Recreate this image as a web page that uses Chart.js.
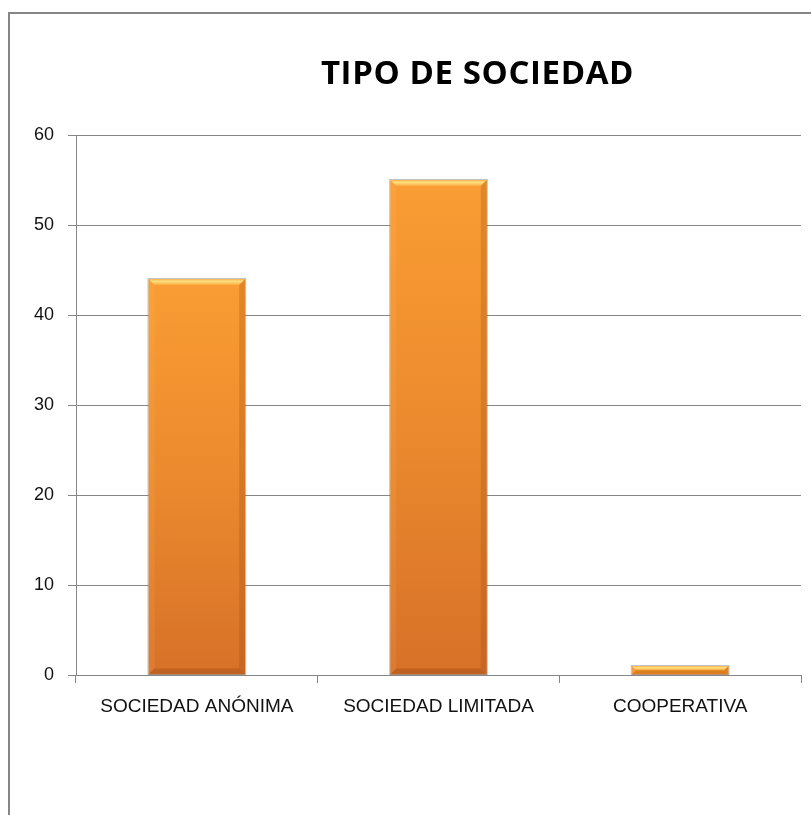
<!DOCTYPE html>
<html>
<head>
<meta charset="utf-8">
<script src="https://cdn.jsdelivr.net/npm/chart.js@4/dist/chart.umd.min.js"></script>
<style>
  html, body { margin: 0; padding: 0; background: #fff; overflow: hidden; }
  #wrap { position: relative; width: 811px; height: 815px; }
  #frame { position: absolute; left: 8px; top: 12px; width: 820px; height: 820px;
           border-left: 2px solid #868686; border-top: 2px solid #868686; }
  #title { position: absolute; left: 0; width: 955px; top: 49px; text-align: center;
           font: bold 33px "Open Sans", sans-serif; letter-spacing: 0.6px; color: #000; }
  #chart { position: absolute; left: 0; top: 0; }
</style>
</head>
<body>
<div id="wrap">
  <div id="frame"></div>
  <canvas id="chart" width="811" height="815"></canvas>
  <div id="title">TIPO DE SOCIEDAD</div>
</div>
<script>
var titleText = 'TIPO DE SOCIEDAD';
var categories = ['SOCIEDAD ANÓNIMA', 'SOCIEDAD LIMITADA', 'COOPERATIVA'];
var values = [44, 55, 1];
var yTicks = [0, 10, 20, 30, 40, 50, 60];

var axisGray = '#868686';

// bar gradient, per bar (light orange on top, darker at the base)
function barFill(ctx) {
	var chart = ctx.chart;
	if (!chart.chartArea || !chart.scales.y) return '#f0882e';
	var ys = chart.scales.y;
	var top = ys.getPixelForValue(values[ctx.dataIndex]);
	var base = ys.getPixelForValue(0);
	if (!isFinite(top) || base - top < 1) return '#f0882e';
	if (base - top < 20) return '#f7982f';
	var g = chart.ctx.createLinearGradient(0, top, 0, base);
	g.addColorStop(0, '#fa9d33');
	g.addColorStop(0.5, '#eb8a2e');
	g.addColorStop(1, '#d77128');
	return g;
}

// little bevel on each bar, like the office 3d look
var bevel = {
	id: 'bevel',
	afterDatasetsDraw: function(chart) {
		var c = chart.ctx;
		var meta = chart.getDatasetMeta(0);
		meta.data.forEach(function(bar) {
			var l = bar.x - bar.width / 2, r = bar.x + bar.width / 2;
			var t = bar.y, b = bar.base;
			var h = b - t;
			var e = Math.min(6, h / 2);
			c.save();
			// soft shadow
			c.strokeStyle = 'rgba(120,120,120,0.45)';
			c.lineWidth = 1;
			c.strokeRect(l - 0.5, t - 0.5, r - l + 1, h + 0.5);
			// top highlight
			var g = c.createLinearGradient(0, t, 0, t + e);
			g.addColorStop(0, '#fbb24e');
			g.addColorStop(0.4, '#ffe07f');
			g.addColorStop(1, '#fbaa40');
			c.fillStyle = g;
			c.beginPath();
			c.moveTo(l, t); c.lineTo(r, t); c.lineTo(r - e, t + e); c.lineTo(l + e, t + e);
			c.closePath(); c.fill();
			// right edge darker
			c.fillStyle = 'rgba(150,70,10,0.25)';
			c.beginPath();
			c.moveTo(r, t); c.lineTo(r, b); c.lineTo(r - e, b - e); c.lineTo(r - e, t + e);
			c.closePath(); c.fill();
			// left edge a bit lighter
			c.fillStyle = 'rgba(255,200,120,0.12)';
			c.beginPath();
			c.moveTo(l, t); c.lineTo(l + e, t + e); c.lineTo(l + e, b - e); c.lineTo(l, b);
			c.closePath(); c.fill();
			// bottom edge
			c.fillStyle = h < 20 ? 'rgba(170,80,10,0.35)' : 'rgba(120,50,10,0.25)';
			c.beginPath();
			c.moveTo(l, b); c.lineTo(l + e, b - e); c.lineTo(r - e, b - e); c.lineTo(r, b);
			c.closePath(); c.fill();
			c.restore();
		});
	}
};

new Chart(document.getElementById('chart'), {
	type: 'bar',
	data: {
		labels: categories,
		datasets: [{
			label: titleText,
			data: values,
			backgroundColor: barFill,
			borderWidth: 0,
			categoryPercentage: 1,
			barPercentage: 0.4
		}]
	},
	options: {
		responsive: false,
		animation: false,
		events: [],
		layout: { padding: { left: 0, right: 10, top: 135, bottom: 0 } },
		plugins: {
			legend: { display: false },
			title: { display: false },
			tooltip: { enabled: false }
		},
		scales: {
			x: {
				grid: { offset: true, drawOnChartArea: false, drawTicks: true, tickLength: 8, color: axisGray },
				border: { color: axisGray, width: 1 },
				ticks: { color: '#111', padding: 12, maxRotation: 0, autoSkip: false,
				         font: { family: '"Liberation Sans", sans-serif', size: 19 } },
				afterFit: function(s) { s.height = 140; }
			},
			y: {
				min: 0, max: 60,
				afterBuildTicks: function(s) { s.ticks = yTicks.map(function(v) { return { value: v }; }); },
				grid: { color: axisGray, tickLength: 8 },
				border: { color: axisGray, width: 1 },
				ticks: { color: '#111', padding: 14,
				         font: { family: '"Liberation Sans", sans-serif', size: 18 } },
				afterFit: function(s) { s.width = 76; }
			}
		}
	},
	plugins: [bevel]
});
</script>
</body>
</html>
